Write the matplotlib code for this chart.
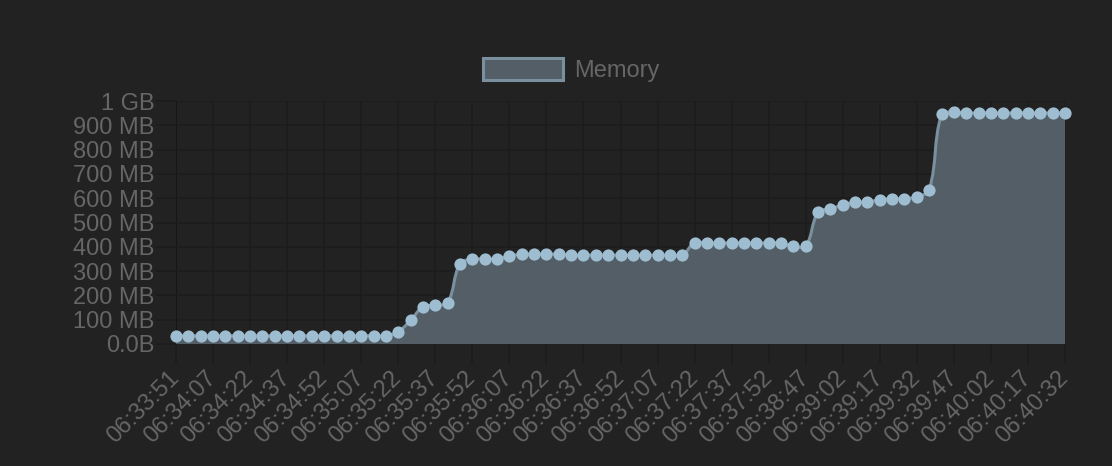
import numpy as np
import matplotlib
matplotlib.use("Agg")
import matplotlib.pyplot as plt
from matplotlib.path import Path
from matplotlib.patches import PathPatch, Patch

# memory samples (MB), one every ~5 s
memory_mb = [34] * 18 + [51, 97, 153, 160, 170, 330, 349, 350, 351, 362, 369, 370, 370, 370] \
    + [366] * 10 + [416] * 8 + [403, 403, 542, 556, 572, 584, 584, 594, 598, 598, 606, 634,
                                945, 953] + [951] * 9

# every third sample gets a label on the x axis
tick_labels = ["06:33:51", "06:34:07", "06:34:22", "06:34:37", "06:34:52", "06:35:07",
               "06:35:22", "06:35:37", "06:35:52", "06:36:07", "06:36:22", "06:36:37",
               "06:36:52", "06:37:07", "06:37:22", "06:37:37", "06:37:52", "06:38:47",
               "06:39:02", "06:39:17", "06:39:32", "06:39:47", "06:40:02", "06:40:17",
               "06:40:32"]
label_step = 3

y_ticks = [0, 100, 200, 300, 400, 500, 600, 700, 800, 900, 1000]
y_labels = ["0.0B", "100 MB", "200 MB", "300 MB", "400 MB", "500 MB", "600 MB",
            "700 MB", "800 MB", "900 MB", "1 GB"]

bg = "#222222"
grid_c = "#1c1c1c"
zero_c = "#141414"
text_c = "#666666"
fill_c = "#545e66"
line_c = "#7a909e"
point_c = "#9ebdd0"

plt.rcParams["font.family"] = ["Liberation Sans", "DejaVu Sans"]
fs = 17

fig = plt.figure(figsize=(11.12, 4.66), dpi=100, facecolor=bg)
ax = fig.add_axes([176 / 1112, 1 - 344 / 466, (1065 - 176) / 1112, (344 - 101) / 466])
ax.set_facecolor(bg)

n = len(memory_mb)
xs = np.arange(n)
ys = np.array(memory_mb, dtype=float)
ax.set_xlim(0, n - 1)
ax.set_ylim(0, 1000)

# grid lines (chart.js style: gridlines + ticks in same colour)
for k in range(0, n, label_step):
    ax.axvline(k, color=zero_c if k == 0 else grid_c, lw=1.2, zorder=0)
for v in y_ticks:
    ax.axhline(v, color=zero_c if v == 0 else grid_c, lw=1.2, zorder=0)

# smooth line like chart.js (tension 0.4), computed in pixel space
pix = ax.transData.transform(np.column_stack([xs, ys]))
t = 0.4
prev_cp = np.zeros_like(pix)
next_cp = np.zeros_like(pix)
for i in range(n):
    p = pix[max(i - 1, 0)]
    c = pix[i]
    nx = pix[min(i + 1, n - 1)]
    d01 = np.hypot(*(c - p))
    d12 = np.hypot(*(nx - c))
    tot = d01 + d12
    s01 = d01 / tot if tot else 0
    s12 = d12 / tot if tot else 0
    prev_cp[i] = c - t * s01 * (nx - p)
    next_cp[i] = c + t * s12 * (nx - p)
inv = ax.transData.inverted()
prev_d = inv.transform(prev_cp)
next_d = inv.transform(next_cp)
pts = [(xs[0], ys[0])]
codes = [Path.MOVETO]
for i in range(n - 1):
    pts += [tuple(next_d[i]), tuple(prev_d[i + 1]), (xs[i + 1], ys[i + 1])]
    codes += [Path.CURVE4] * 3
line_path = Path(pts, codes)
fill_path = Path(pts + [(xs[-1], 0), (xs[0], 0), (xs[0], ys[0])],
                 codes + [Path.LINETO, Path.LINETO, Path.CLOSEPOLY])
ax.add_patch(PathPatch(fill_path, facecolor=fill_c, edgecolor="none", zorder=1))
ax.add_patch(PathPatch(line_path, facecolor="none", edgecolor=line_c, lw=2.2, zorder=2))
ax.plot(xs, ys, "o", ms=8.8, color=point_c, mec=point_c, mew=0, zorder=3, clip_on=False)

ax.set_yticks(y_ticks)
ax.set_yticklabels(y_labels)
ax.set_xticks(xs[::label_step])
ax.set_xticklabels(tick_labels, rotation=45, ha="right", va="center", rotation_mode="anchor")
ax.tick_params(axis="both", colors=grid_c, length=14.4, width=1.2, labelcolor=text_c,
               labelsize=fs)
ax.tick_params(axis="x", pad=8)
ax.tick_params(axis="y", pad=1)
for s in ax.spines.values():
    s.set_visible(False)

handle = Patch(facecolor=fill_c, edgecolor=line_c, lw=2.2)
fig.legend([handle], ["Memory"], loc="center", bbox_to_anchor=(571 / 1112, 1 - 70 / 466),
           frameon=False, fontsize=fs, labelcolor=text_c, handlelength=3.4, handleheight=1.1,
           handletextpad=0.45, borderpad=0)

fig.savefig("out.png", dpi=100, facecolor=bg)
